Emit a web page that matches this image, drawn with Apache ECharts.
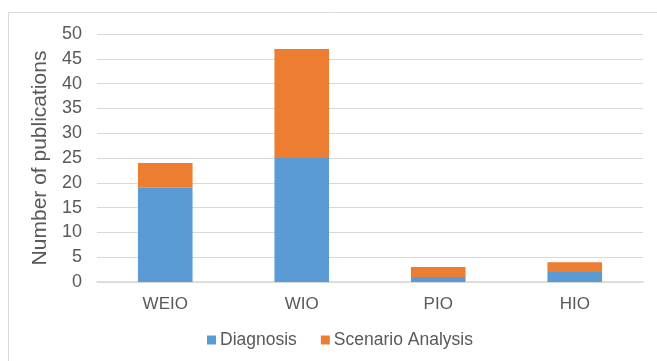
<!DOCTYPE html>
<html>
<head>
<meta charset="utf-8">
<script src="https://cdn.jsdelivr.net/npm/echarts@6/dist/echarts.min.js"></script>
<style>
  html, body { margin: 0; padding: 0; background: #fff; }
  #chart { width: 657px; height: 361px; }
</style>
</head>
<body>
<div id="chart"></div>
<script>
// Publications per model type, split by study purpose
const categories = ['WEIO', 'WIO', 'PIO', 'HIO'];
const diagnosis = [19, 25, 1, 2];
const scenarioAnalysis = [5, 22, 2, 2];

const chart = echarts.init(document.getElementById('chart'), null, { renderer: 'canvas' });

const textColor = '#595959';
const font = 'Liberation Sans, Arial, sans-serif';

chart.setOption({
  animation: false,
  backgroundColor: '#ffffff',
  graphic: [{
    type: 'rect',
    shape: { x: 8.5, y: 12.5, width: 700, height: 400 },
    style: { fill: 'none', stroke: '#d9d9d9', lineWidth: 1 },
    silent: true
  }],
  grid: { left: 97, right: 14, top: 34, bottom: 79 },
  legend: {
    bottom: 7,
    left: 202,
    itemWidth: 9,
    itemHeight: 9,
    itemGap: 24,
    icon: 'rect',
    textStyle: { color: textColor, fontSize: 17.5, fontFamily: font, padding: [0, 0, 0, -1] },
    data: ['Diagnosis', 'Scenario Analysis']
  },
  xAxis: {
    type: 'category',
    data: categories,
    axisLine: { lineStyle: { color: '#d9d9d9', width: 1.5 } },
    axisTick: { show: false },
    axisLabel: { color: textColor, fontSize: 17, fontFamily: font, margin: 14 }
  },
  yAxis: {
    type: 'value',
    min: 0,
    max: 50,
    interval: 5,
    name: 'Number of publications',
    nameLocation: 'middle',
    nameGap: 37,
    nameTextStyle: { color: textColor, fontSize: 21, fontFamily: font },
    axisLine: { show: false },
    axisTick: { show: false },
    axisLabel: { color: textColor, fontSize: 18, fontFamily: font, margin: 15 },
    splitLine: { lineStyle: { color: '#d9d9d9', width: 1 } }
  },
  series: [
    {
      name: 'Diagnosis',
      type: 'bar',
      stack: 'total',
      barWidth: '40%',
      data: diagnosis,
      itemStyle: { color: '#5b9bd5' }
    },
    {
      name: 'Scenario Analysis',
      type: 'bar',
      stack: 'total',
      barWidth: '40%',
      data: scenarioAnalysis,
      itemStyle: { color: '#ed7d31' }
    }
  ]
});
</script>
</body>
</html>
